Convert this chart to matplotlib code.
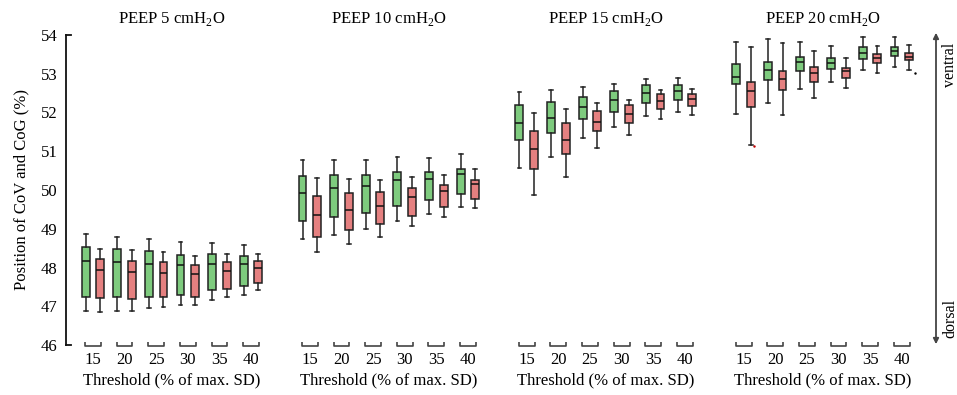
import matplotlib
matplotlib.use("Agg")
import matplotlib.pyplot as plt
import numpy as np

plt.rcParams['font.family'] = ['Liberation Serif', 'DejaVu Serif']
plt.rcParams['mathtext.fontset'] = 'custom'
plt.rcParams['mathtext.rm'] = 'Liberation Serif'

peep_levels = [5, 10, 15, 20]
thresholds = ["15", "20", "25", "30", "35", "40"]

# each row: [whisker_low, q1, median, q3, whisker_high] per threshold
cov_peep5 = [[46.88, 47.25, 48.18, 48.52, 48.87], [46.88, 47.23, 48.13, 48.48, 48.80],
             [46.95, 47.25, 48.10, 48.42, 48.74], [47.02, 47.28, 48.07, 48.33, 48.65],
             [47.17, 47.41, 48.10, 48.34, 48.64], [47.28, 47.52, 48.09, 48.30, 48.57]]
cog_peep5 = [[46.86, 47.22, 47.93, 48.22, 48.49], [46.88, 47.20, 47.88, 48.16, 48.44],
             [46.97, 47.23, 47.87, 48.14, 48.39], [47.02, 47.25, 47.83, 48.06, 48.29],
             [47.25, 47.45, 47.92, 48.14, 48.34], [47.42, 47.61, 47.99, 48.16, 48.35]]
cov_peep10 = [[48.73, 49.21, 49.93, 50.37, 50.77], [48.85, 49.30, 50.04, 50.40, 50.77],
              [48.99, 49.41, 50.11, 50.39, 50.78], [49.21, 49.60, 50.25, 50.46, 50.84],
              [49.37, 49.74, 50.29, 50.47, 50.83], [49.55, 49.90, 50.41, 50.55, 50.92]]
cog_peep10 = [[48.41, 48.80, 49.36, 49.85, 50.30], [48.61, 48.96, 49.49, 49.93, 50.29],
              [48.80, 49.12, 49.60, 49.94, 50.26], [49.07, 49.34, 49.81, 50.06, 50.33],
              [49.31, 49.55, 49.97, 50.12, 50.40], [49.53, 49.78, 50.15, 50.25, 50.53]]
cov_peep15 = [[50.58, 51.28, 51.72, 52.19, 52.52], [50.85, 51.46, 51.87, 52.28, 52.59],
              [51.35, 51.82, 52.13, 52.41, 52.66], [51.63, 52.01, 52.31, 52.55, 52.73],
              [51.90, 52.24, 52.50, 52.70, 52.87], [52.02, 52.31, 52.55, 52.72, 52.90]]
cog_peep15 = [[49.86, 50.54, 51.05, 51.52, 51.99], [50.34, 50.92, 51.30, 51.72, 52.10],
              [51.08, 51.51, 51.75, 52.03, 52.25], [51.41, 51.72, 51.97, 52.19, 52.32],
              [51.82, 52.08, 52.30, 52.47, 52.58], [51.94, 52.16, 52.34, 52.48, 52.61]]
cov_peep20 = [[51.96, 52.74, 52.92, 53.25, 53.83], [52.24, 52.83, 53.09, 53.31, 53.90],
              [52.61, 53.06, 53.30, 53.42, 53.81], [52.79, 53.11, 53.29, 53.41, 53.72],
              [53.10, 53.39, 53.54, 53.68, 53.94], [53.18, 53.46, 53.58, 53.70, 53.95]]
cog_peep20 = [[51.16, 52.13, 52.55, 52.80, 53.68], [51.93, 52.58, 52.86, 53.08, 53.80],
              [52.38, 52.80, 53.01, 53.17, 53.60], [52.62, 52.90, 53.06, 53.14, 53.41],
              [53.03, 53.28, 53.40, 53.50, 53.72], [53.10, 53.35, 53.43, 53.54, 53.74]]
cog_peep20_fliers = [(0, 51.13), (5, 53.01)]

cov_all = [cov_peep5, cov_peep10, cov_peep15, cov_peep20]
cog_all = [cog_peep5, cog_peep10, cog_peep15, cog_peep20]

green = '#7ecb7e'
red = '#e58080'

W, H = 957, 395
fig = plt.figure(figsize=(W / 100, H / 100), dpi=100)

ax_left0 = 66
ax_w = 212
step = 216.9
ax_bottom = 50
ax_h = 310

def stats(rows):
    out = []
    for r in rows:
        out.append(dict(whislo=r[0], q1=r[1], med=r[2], q3=r[3], whishi=r[4], fliers=[]))
    return out

axes = []
for k in range(4):
    ax = fig.add_axes([(ax_left0 + k * step) / W, ax_bottom / H, ax_w / W, ax_h / H])
    axes.append(ax)
    pos = np.arange(1, 7)
    for data, off, col in [(cov_all[k], -0.23, green), (cog_all[k], 0.23, red)]:
        ax.bxp(stats(data), positions=pos + off, widths=0.25, patch_artist=True,
               showfliers=False,
               boxprops=dict(facecolor=col, edgecolor='#222222', linewidth=1.1),
               medianprops=dict(color='#111111', linewidth=1.1),
               whiskerprops=dict(color='#222222', linewidth=1.1),
               capprops=dict(color='#222222', linewidth=1.1),
               capwidths=0.12)
    if k == 3:
        for i, v in cog_peep20_fliers:
            ax.plot([pos[i] + 0.23 + (0.2 if i == 5 else 0.1)], [v], marker='.', ms=1.5,
                    color='#c00000' if i == 0 else 'black', ls='none')
    ax.set_xlim(0.15, 6.85)
    ax.set_ylim(46, 54)
    for s in ['top', 'right', 'bottom']:
        ax.spines[s].set_visible(False)
    ax.set_xticks(pos)
    ax.set_xticklabels(thresholds, fontsize=12)
    ax.tick_params(axis='x', length=0, pad=5)
    # group brackets
    for p in pos:
        ax.plot([p - 0.25, p - 0.25, p + 0.25, p + 0.25], [46.08, 45.98, 45.98, 46.08],
                color='#444444', lw=1.2, clip_on=False, solid_capstyle='butt')
    ax.set_xlabel('Threshold (% of max. SD)', fontsize=12, labelpad=3)
    ax.set_title('PEEP %d cmH$_2$O' % peep_levels[k], fontsize=12, pad=9)
    if k == 0:
        ax.set_yticks(np.arange(46, 55, 1))
        ax.tick_params(axis='y', length=0, labelsize=12, pad=6)
        ax.spines['left'].set_linewidth(1.3)
        ax.spines['left'].set_color('#111111')
        for yv in [46, 54]:
            ax.plot([0.15, 0.3], [yv, yv], color='#111111', lw=1.3, clip_on=False)
        ax.set_ylabel('Position of CoV and CoG (%)', fontsize=12, labelpad=8)
    else:
        ax.spines['left'].set_visible(False)
        ax.set_yticks([])

# ventral / dorsal arrow
fig.add_artist(matplotlib.patches.FancyArrowPatch((936 / W, (H - 347) / H), (936 / W, (H - 30) / H),
                                                  transform=fig.transFigure, arrowstyle='<|-|>',
                                                  mutation_scale=8, color='#444444', lw=1.3))
fig.text(950 / W, (H - 65) / H, 'ventral', rotation=90, ha='center', va='center', fontsize=11.5)
fig.text(950 / W, (H - 318) / H, 'dorsal', rotation=90, ha='center', va='center', fontsize=11.5)

fig.savefig('out.png', dpi=100)
